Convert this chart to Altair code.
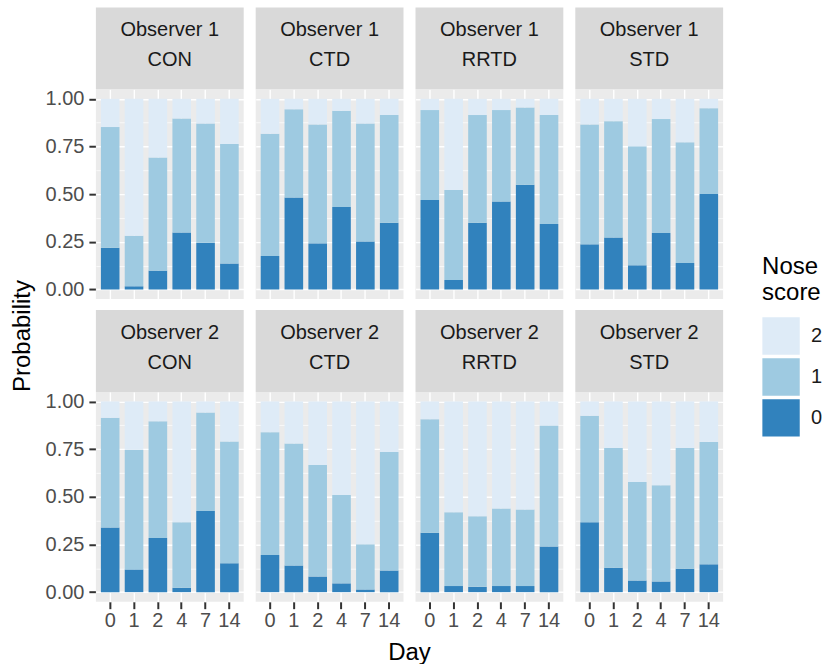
import altair as alt
import pandas as pd

# Study days, treatment groups and observers
days = [0, 1, 2, 4, 7, 14]
groups = ["CON", "CTD", "RRTD", "STD"]
observers = ["Observer 1", "Observer 2"]

# Nose score categories (legend order) and their fills
scores = ["2", "1", "0"]
score_colors = ["#DEEBF7", "#9ECAE1", "#3182BD"]

# Probability of nose score 0, per day
obs1_p0 = {
    "CON":  [0.219, 0.017, 0.099, 0.299, 0.245, 0.136],
    "CTD":  [0.176, 0.483, 0.242, 0.433, 0.252, 0.350],
    "RRTD": [0.470, 0.050, 0.350, 0.461, 0.550, 0.344],
    "STD":  [0.237, 0.273, 0.127, 0.296, 0.139, 0.501],
}
obs2_p0 = {
    "CON":  [0.339, 0.119, 0.284, 0.023, 0.425, 0.151],
    "CTD":  [0.195, 0.140, 0.082, 0.046, 0.014, 0.114],
    "RRTD": [0.311, 0.032, 0.028, 0.032, 0.032, 0.240],
    "STD":  [0.367, 0.128, 0.061, 0.056, 0.123, 0.146],
}

# Cumulative probability of nose score 0 or 1, per day
obs1_p01 = {
    "CON":  [0.852, 0.282, 0.692, 0.897, 0.871, 0.763],
    "CTD":  [0.817, 0.946, 0.866, 0.937, 0.871, 0.915],
    "RRTD": [0.941, 0.522, 0.915, 0.941, 0.955, 0.915],
    "STD":  [0.866, 0.883, 0.751, 0.894, 0.772, 0.951],
}
obs2_p01 = {
    "CON":  [0.914, 0.746, 0.896, 0.367, 0.942, 0.790],
    "CTD":  [0.839, 0.779, 0.667, 0.509, 0.251, 0.735],
    "RRTD": [0.907, 0.419, 0.398, 0.439, 0.433, 0.874],
    "STD":  [0.925, 0.756, 0.577, 0.560, 0.756, 0.788],
}

rows = []
for obs, p0_tab, p01_tab in [
    ("Observer 1", obs1_p0, obs1_p01),
    ("Observer 2", obs2_p0, obs2_p01),
]:
    for grp in groups:
        for day, p0, p01 in zip(days, p0_tab[grp], p01_tab[grp]):
            rows.append({"Observer": obs, "Group": grp, "Day": day, "Score": "0", "Probability": p0})
            rows.append({"Observer": obs, "Group": grp, "Day": day, "Score": "1", "Probability": p01 - p0})
            rows.append({"Observer": obs, "Group": grp, "Day": day, "Score": "2", "Probability": 1 - p01})
df = pd.DataFrame(rows)

W, H = 148, 210      # panel size
STRIP = 82           # strip height above each panel
FONT = "Liberation Sans"

is_major = "abs(datum.value * 4 - round(datum.value * 4)) < 0.001"

y_axis = alt.Axis(
    title=None,
    values=[i / 8 for i in range(9)],
    labelExpr=f"{is_major} ? format(datum.value, '.2f') : ''",
    labelOverlap=False,
    labelFontSize=20,
    labelColor="#4D4D4D",
    labelPadding=5,
    tickColor="#333333",
    tickSize=7,
    tickWidth=2,
    tickOpacity={"condition": {"test": is_major, "value": 1}, "value": 0},
    grid=True,
    gridColor="white",
    gridWidth={"condition": {"test": is_major, "value": 1.4}, "value": 0.7},
    domain=False,
)

x_axis = alt.Axis(
    title=None,
    labelAngle=0,
    bandPosition=0.5,
    labelFontSize=20,
    labelColor="#4D4D4D",
    labelPadding=2,
    tickColor="#333333",
    tickSize=7,
    tickWidth=2,
    grid=True,
    gridColor="white",
    gridWidth=1.4,
    domain=False,
)

base = alt.Chart()

bars = base.mark_bar().encode(
    x=alt.X("Day:O", sort=days,
            scale=alt.Scale(paddingInner=0.22, paddingOuter=0.21),
            axis=x_axis),
    y=alt.Y("Probability:Q", stack="zero",
            scale=alt.Scale(domain=[-0.05, 1.05], nice=False),
            axis=y_axis),
    color=alt.Color(
        "Score:N",
        scale=alt.Scale(domain=scores, range=score_colors),
        legend=alt.Legend(
            title=["Nose", "score"],
            orient="none",
            legendX=667,
            legendY=166,
            symbolType="square",
            symbolSize=1400,
            symbolStrokeWidth=0,
            symbolOpacity=1,
            labelFontSize=20,
            labelColor="#1A1A1A",
            labelOffset=11,
            rowPadding=3,
            titleFontSize=24,
            titleFontWeight="normal",
            titleColor="black",
            titleLineHeight=26,
            titlePadding=12,
        ),
    ),
    order=alt.Order("Score:N", sort="ascending"),
)

# one row per panel drives the strip above it
strip_rows = base.transform_filter("datum.Day == 0 && datum.Score == '0'")

strip_bg = strip_rows.mark_rect(color="#D9D9D9").encode(
    x=alt.value(0), x2=alt.value(W), y=alt.value(-STRIP), y2=alt.value(0)
)
strip_obs = strip_rows.mark_text(fontSize=20, color="#1A1A1A", baseline="alphabetic").encode(
    text="Observer:N", x=alt.value(W / 2), y=alt.value(-53)
)
strip_grp = strip_rows.mark_text(fontSize=20, color="#1A1A1A", baseline="alphabetic").encode(
    text="Group:N", x=alt.value(W / 2), y=alt.value(-23)
)

panel = alt.layer(bars, strip_bg, strip_obs, strip_grp).properties(width=W, height=H)

chart = (
    panel.facet(
        data=df,
        row=alt.Row("Observer:N", sort=observers, header=None),
        column=alt.Column(
            "Group:N", sort=groups,
            header=alt.Header(
                labels=False, labelOrient="bottom", labelPadding=0,
                title="Day", titleOrient="bottom",
                titleFontSize=24, titleFontWeight="normal",
                titleColor="black", titlePadding=0,
            ),
        ),
        spacing={"row": 11, "column": 12},
    )
    .properties(
        title=alt.TitleParams(
            "Probability", orient="left", anchor="middle", angle=-90,
            fontSize=24, fontWeight="normal", color="black", offset=10,
        ),
        padding={"left": 11, "top": 7, "right": 5, "bottom": 5},
    )
    .configure(font=FONT)
    .configure_view(fill="#EBEBEB", strokeWidth=0)
)

chart.save("out.html", embed_options={"renderer": "svg", "actions": False})
